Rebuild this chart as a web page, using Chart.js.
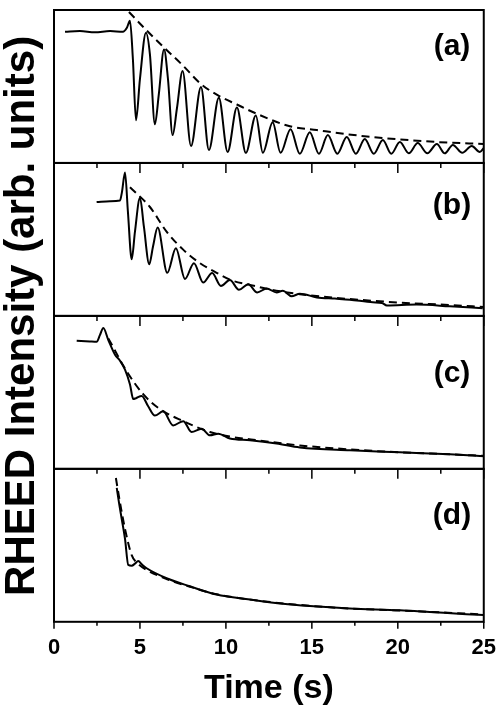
<!DOCTYPE html>
<html>
<head>
<meta charset="utf-8">
<script src="https://cdn.jsdelivr.net/npm/chart.js@4.4.1/dist/chart.umd.min.js"></script>
<style>
html, body { margin: 0; padding: 0; background: #fff; }
#wrap { width: 503px; height: 709px; position: relative; }
</style>
</head>
<body>
<div id="wrap"><canvas id="rheed"></canvas></div>
<script>
// time in s, intensity in arb. units (0-100 inside each panel)
var timeA = [0.64, 1.51, 2.38, 3.26, 4.01, 4.24, 4.42, 4.59, 4.77, 5.0, 5.35, 5.58, 5.87, 6.1, 6.4, 6.63, 6.9, 7.15, 7.48, 7.97, 8.55, 9.01, 9.59, 10.1, 10.64, 11.16, 11.74, 12.15, 12.72, 13.18, 13.76, 14.3, 14.88, 15.41, 15.93, 16.48, 17.03, 17.56, 18.08, 18.6, 19.13, 19.62, 20.12, 20.64, 21.16, 21.72, 22.27, 22.73, 23.2, 23.75, 24.3, 24.77, 25.0];
var intA = [85.8, 86.2, 85.5, 86.2, 85.8, 88.4, 92.9, 67.8, 27.9, 54.9, 85.2, 71.0, 25.3, 45.2, 74.2, 54.9, 18.2, 35.6, 60.1, 11.1, 49.7, 8.5, 42.7, 7.2, 36.2, 6.6, 31.1, 6.6, 26.6, 6.6, 22.1, 6.0, 20.1, 6.0, 18.2, 6.0, 16.9, 6.0, 15.6, 6.0, 15.0, 6.0, 13.7, 6.3, 13.0, 6.3, 12.4, 6.3, 11.8, 6.6, 11.1, 7.2, 9.8];
var fitTimeA = [4.36, 5.35, 6.4, 7.48, 8.55, 9.59, 10.64, 11.74, 13.72, 15.29, 17.03, 19.13, 22.27, 25.0];
var fitA = [98.7, 87.1, 75.5, 63.9, 51.6, 43.9, 38.2, 32.4, 24.0, 21.5, 18.8, 16.3, 13.7, 12.4];

var timeB = [2.48, 3.26, 3.84, 3.95, 4.13, 4.3, 4.52, 4.71, 5.0, 5.23, 5.54, 5.76, 6.03, 6.59, 7.09, 7.62, 8.14, 8.68, 9.2, 9.71, 10.23, 10.76, 11.3, 11.82, 12.37, 12.95, 13.31, 13.82, 14.3, 15.29, 16.34, 17.21, 18.55, 19.07, 19.36, 21.1, 23.02, 24.94];
var intB = [74.4, 75.0, 75.5, 80.8, 93.7, 68.0, 37.0, 55.1, 77.2, 58.3, 33.8, 45.4, 57.8, 28.2, 44.3, 24.2, 34.5, 21.8, 28.0, 19.6, 23.5, 17.1, 20.7, 15.3, 17.9, 15.3, 16.4, 12.8, 14.5, 12.1, 11.3, 10.6, 8.9, 8.5, 6.8, 7.4, 6.3, 5.0];
var fitTimeB = [4.42, 5.58, 6.55, 7.5, 8.49, 9.46, 10.41, 11.4, 12.37, 13.31, 14.3, 17.21, 20.12, 23.02, 25.0];
var fitB = [84.1, 71.2, 55.1, 43.5, 34.5, 28.2, 22.9, 20.3, 17.7, 15.8, 14.2, 11.0, 8.7, 7.1, 5.8];

var timeC = [1.32, 2.09, 2.48, 2.67, 2.87, 3.16, 3.55, 3.84, 4.13, 4.42, 4.61, 4.77, 5.1, 5.47, 5.87, 6.35, 6.93, 7.52, 8.0, 8.59, 9.07, 9.55, 10.23, 11.4, 12.95, 14.3, 17.21, 20.12, 23.02, 25.0];
var intC = [83.8, 83.3, 83.1, 87.4, 92.1, 84.2, 74.6, 70.7, 64.9, 55.2, 45.6, 46.2, 47.7, 41.1, 34.8, 37.6, 28.4, 31.2, 24.1, 26.2, 21.9, 23.0, 19.8, 18.7, 16.6, 14.0, 12.1, 10.8, 9.5, 8.2];
var fitTimeC = [3.16, 4.23, 5.19, 6.16, 7.52, 9.07, 10.23, 11.98, 14.3, 17.21, 20.12, 23.02, 25.0];
var fitC = [85.3, 63.8, 48.8, 39.1, 31.2, 24.1, 21.1, 18.5, 15.3, 12.7, 10.8, 9.5, 8.5];

var timeD = [3.65, 3.78, 3.94, 4.13, 4.32, 4.52, 4.71, 4.9, 5.12, 5.39, 6.55, 7.91, 9.46, 11.4, 13.31, 14.88, 17.21, 20.12, 21.86, 23.99, 25.0];
var intD = [87.6, 77.9, 67.2, 54.3, 37.2, 36.7, 38.0, 39.7, 37.4, 35.0, 28.5, 23.2, 17.8, 14.6, 11.8, 10.3, 8.7, 7.5, 6.4, 5.0, 4.5];
var fitTimeD = [3.6, 3.84, 4.13, 4.52, 4.88, 5.39, 6.55, 7.91, 9.46, 11.4, 14.3, 17.21, 20.12, 25.0];
var fitD = [94.0, 77.9, 60.7, 43.6, 38.0, 33.9, 28.0, 22.9, 18.0, 14.5, 11.0, 8.7, 7.4, 4.8];

var panelLabels = ['(a)', '(b)', '(c)', '(d)'];
var panelIds = ['ya', 'yb', 'yc', 'yd'];

function pts(ts, vs) {
    return ts.map(function (t, i) { return { x: t, y: vs[i] }; });
}

var measured = [pts(timeA, intA), pts(timeB, intB), pts(timeC, intC), pts(timeD, intD)];
var fitted = [pts(fitTimeA, fitA), pts(fitTimeB, fitB), pts(fitTimeC, fitC), pts(fitTimeD, fitD)];

var datasets = [];
for (var i = 0; i < panelIds.length; i++) {
    datasets.push({
        data: measured[i], yAxisID: panelIds[i],
        borderColor: '#000', borderWidth: 2, pointRadius: 0,
        cubicInterpolationMode: 'monotone'
    });
    datasets.push({
        data: fitted[i], yAxisID: panelIds[i],
        borderColor: '#000', borderWidth: 2, borderDash: [8, 5], pointRadius: 0,
        cubicInterpolationMode: 'monotone'
    });
}

var scales = {
    x: {
        type: 'linear', min: 0, max: 25,
        ticks: {
            stepSize: 2.5, autoSkip: false, maxRotation: 0, padding: 7, color: '#000',
            font: { family: 'Arial', weight: 'bold', size: 22 },
            callback: function (v) { return v % 5 === 0 ? v : ''; }
        },
        grid: { drawOnChartArea: false, tickLength: 6, tickColor: 'rgba(0,0,0,0)' },
        border: { display: false },
        title: {
            display: true, text: 'Time (s)', color: '#000',
            font: { family: 'Arial', weight: 'bold', size: 34 },
            padding: { top: 0, bottom: 0 }
        }
    }
};
// stacked scales are laid out bottom-first, so add (d) first
panelIds.slice().reverse().forEach(function (id) {
    scales[id] = {
        type: 'linear', min: 0, max: 100, position: 'left',
        stack: 'rheed', stackWeight: 1,
        ticks: { display: false },
        grid: { display: false, drawTicks: false },
        border: { display: false },
        afterFit: function (s) { s.width = 0; }
    };
});

// frames, inward ticks, panel letters, y title
var framePlugin = {
    id: 'frames',
    afterDraw: function (chart) {
        var ctx = chart.ctx;
        var x = chart.scales.x;
        var tickVals = x.ticks.map(function (t) { return t.value; });
        ctx.save();
        ctx.strokeStyle = '#000';
        ctx.fillStyle = '#000';
        var labelOffsets = [37, 43, 58, 47];
        panelIds.forEach(function (id, i) {
            var ys = chart.scales[id];
            ctx.lineWidth = 2;
            ctx.strokeRect(x.left, ys.top, x.right - x.left, ys.bottom - ys.top);
            if (i > 0) {
                ctx.lineWidth = 1.5;
                tickVals.forEach(function (v) {
                    var px = x.getPixelForValue(v);
                    var len = v % 5 === 0 ? 10 : 5;
                    ctx.beginPath();
                    ctx.moveTo(px, ys.top);
                    ctx.lineTo(px, ys.top + len);
                    ctx.stroke();
                });
            }
            ctx.font = 'bold 30px Arial';
            ctx.textAlign = 'center';
            ctx.textBaseline = 'middle';
            ctx.fillText(panelLabels[i], 452, ys.top + labelOffsets[i]);
        });
        var bottom = chart.scales.yd.bottom;
        ctx.lineWidth = 1.5;
        tickVals.forEach(function (v) {
            var px = x.getPixelForValue(v);
            var len = v % 5 === 0 ? 7 : 4;
            ctx.beginPath();
            ctx.moveTo(px, bottom);
            ctx.lineTo(px, bottom + len);
            ctx.stroke();
        });
        var top = chart.scales.ya.top;
        ctx.translate(22, (top + bottom) / 2);
        ctx.rotate(-Math.PI / 2);
        ctx.font = 'bold 42px Arial';
        ctx.textAlign = 'center';
        ctx.textBaseline = 'middle';
        ctx.fillText('RHEED Intensity (arb. units)', 0, 0);
        ctx.restore();
    }
};

new Chart(document.getElementById('rheed'), {
    type: 'line',
    data: { datasets: datasets },
    options: {
        responsive: true,
        maintainAspectRatio: false,
        animation: false,
        layout: { padding: { left: 54, right: 19, top: 10, bottom: 0 } },
        plugins: { legend: { display: false }, tooltip: { enabled: false } },
        scales: scales
    },
    plugins: [framePlugin]
});
</script>
</body>
</html>
